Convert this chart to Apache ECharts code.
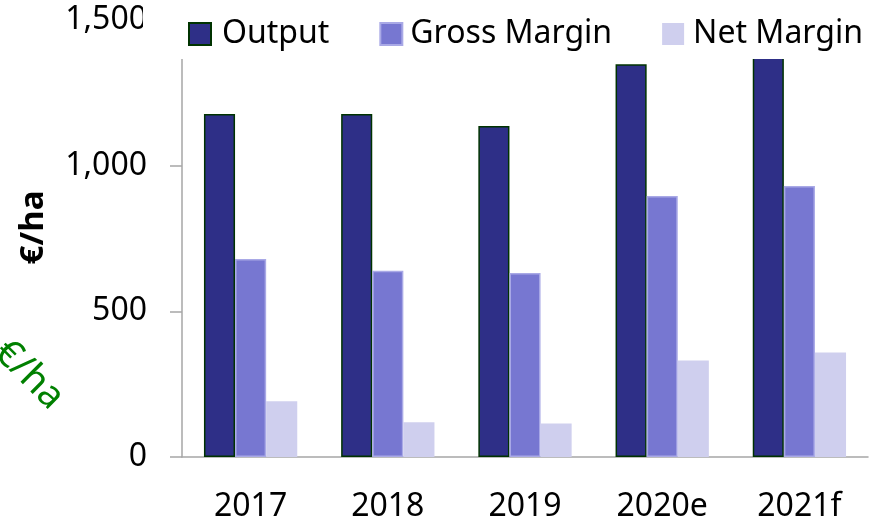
<!DOCTYPE html>
<html>
<head>
<meta charset="utf-8">
<script src="https://cdn.jsdelivr.net/npm/echarts@6/dist/echarts.min.js"></script>
<style>
  html, body { margin: 0; padding: 0; background: #fff; }
  #chart { width: 870px; height: 523px; }
</style>
</head>
<body>
<div id="chart"></div>
<script>
// data (€/ha)
const years = ['2017', '2018', '2019', '2020e', '2021f'];
const output = [1177, 1177, 1136, 1348, 1375];
const grossMargin = [680, 639, 632, 896, 930];
const netMargin = [191, 119, 115, 331, 359];
const yTicks = { min: 0, max: 1500, interval: 500 };

const FONT = '"Noto Sans", sans-serif';

const chart = echarts.init(document.getElementById('chart'), null, { renderer: 'canvas' });

chart.setOption({
  animation: false,
  backgroundColor: '#fff',
  textStyle: { fontFamily: FONT },
  grid: { left: 182, right: 2, top: 20, bottom: 65 },
  legend: {
    z: 60,
    left: 188,
    top: 18,
    padding: 0,
    itemWidth: 22,
    itemHeight: 22,
    itemGap: 50,
    icon: 'rect',
    textStyle: { fontSize: 32, color: '#000', padding: [0, 0, 0, 6] },
    data: [
      'Output',
      { name: 'Gross Margin', textStyle: { padding: [0, 0, 0, 3] } },
      { name: 'Net Margin', textStyle: { padding: [0, 0, 0, 4] } }
    ]
  },
  xAxis: {
    type: 'category',
    data: years,
    axisLine: { lineStyle: { color: '#a6a6a6', width: 1.5 } },
    axisTick: { length: 10, lineStyle: { color: '#a6a6a6', width: 1.5 } },
    axisLabel: { fontSize: 32, color: '#000', margin: 34 }
  },
  yAxis: {
    type: 'value',
    min: yTicks.min,
    max: yTicks.max,
    interval: yTicks.interval,
    name: '€/ha',
    nameLocation: 'middle',
    nameRotate: 90,
    nameGap: 132,
    // left padding nudges the rotated title up a little
    nameTextStyle: { fontSize: 33, fontWeight: 'bold', color: '#000', padding: [0, 0, 0, 22] },
    axisLine: { show: true, lineStyle: { color: '#a6a6a6', width: 1.5 } },
    axisTick: { show: true, length: 12, lineStyle: { color: '#a6a6a6', width: 1.5 } },
    splitLine: { show: false },
    axisLabel: {
      fontSize: 32,
      color: '#000',
      margin: 35,
      formatter: v => v.toLocaleString('en-US')
    }
  },
  graphic: [
    // white strip behind the legend, it hides the top of the plot
    {
      type: 'rect',
      z: 50,
      shape: { x: 143, y: 0, width: 727, height: 59 },
      style: { fill: '#fff' }
    },
    // clipped green label on the left
    {
      type: 'text',
      z: 50,
      x: 29,
      y: 375,
      rotation: -Math.PI / 4,
      style: {
        text: '€/ha',
        font: '38px "Noto Sans", sans-serif',
        fill: '#008000',
        align: 'center',
        verticalAlign: 'middle'
      }
    }
  ],
  series: [
    {
      name: 'Output',
      type: 'bar',
      data: output,
      barGap: '0%',
      barCategoryGap: '32%',
      itemStyle: { color: '#2e2f87', borderColor: '#003300', borderWidth: 1.5 }
    },
    {
      name: 'Gross Margin',
      type: 'bar',
      data: grossMargin,
      itemStyle: { color: '#7777d1', borderColor: '#a9a9e6', borderWidth: 1.5 }
    },
    {
      name: 'Net Margin',
      type: 'bar',
      data: netMargin,
      itemStyle: { color: '#cfcfee' }
    }
  ]
});
</script>
</body>
</html>
